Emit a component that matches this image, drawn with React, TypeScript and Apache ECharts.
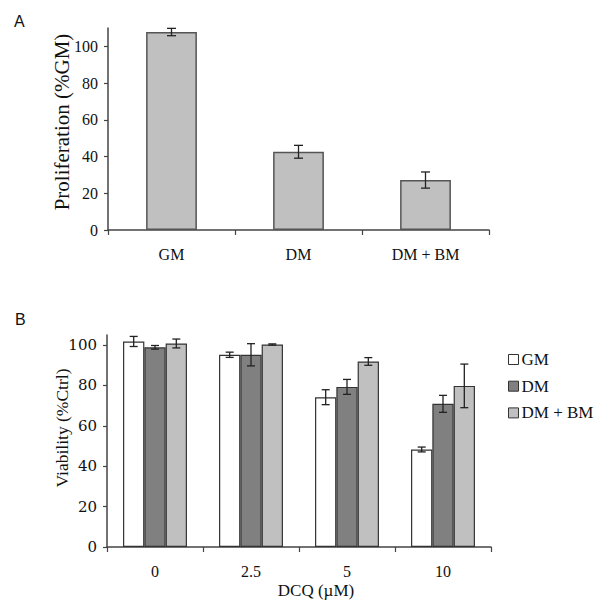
import React, { useEffect, useRef } from "react";
import * as echarts from "echarts";

const catsA = ["GM", "DM", "DM + BM"];
const valsA = [107.8, 42.6, 27.2];
const errA = [2.0, 3.5, 4.4];
const ticksA = [0, 20, 40, 60, 80, 100];

const catsB = ["0", "2.5", "5", "10"];
const seriesNamesB = ["GM", "DM", "DM + BM"];
const gmB = [101.8, 95.2, 74.2, 48.3];
const dmB = [98.9, 95.2, 79.3, 70.9];
const dmbmB = [100.8, 100.3, 91.9, 79.8];
const gmErrB = [2.5, 1.3, 3.7, 1.2];
const dmErrB = [0.9, 5.5, 3.7, 4.2];
const dmbmErrB = [2.2, 0.3, 1.9, 10.8];
const ticksB = [0, 20, 40, 60, 80, 100];

const SERIF = "'Liberation Serif', 'Times New Roman', serif";
const AXIS = "#444";

function errSeries(name: string, vals: number[], errs: number[], xi: number, offsetFrac: number, cap: number) {
  return {
    type: "custom",
    name,
    xAxisIndex: xi,
    yAxisIndex: xi,
    z: 10,
    silent: true,
    data: vals.map((v, i) => [i, v, errs[i]]),
    encode: { x: 0, y: 1 },
    renderItem: (params: any, api: any) => {
      const x = api.value(0);
      const y = api.value(1);
      const e = api.value(2);
      const band = api.size([1, 0])[0];
      const top = api.coord([x, y + e]);
      const bot = api.coord([x, y - e]);
      const cx = top[0] + offsetFrac * band;
      const st = { stroke: "#222", lineWidth: 1.3 };
      return {
        type: "group",
        children: [
          { type: "line", shape: { x1: cx, y1: top[1], x2: cx, y2: bot[1] }, style: st },
          { type: "line", shape: { x1: cx - cap, y1: top[1], x2: cx + cap, y2: top[1] }, style: st },
          { type: "line", shape: { x1: cx - cap, y1: bot[1], x2: cx + cap, y2: bot[1] }, style: st },
        ],
      };
    },
  };
}

export default function App() {
  const ref = useRef<HTMLDivElement>(null);
  useEffect(() => {
    if (!ref.current) return;
    const chart = echarts.init(ref.current, null, { renderer: "svg" });
    const bwB = 0.222;
    const barBorder = { borderColor: "#333", borderWidth: 1.2 };
    chart.setOption({
      animation: false,
      backgroundColor: "#fff",
      grid: [
        { left: 108, top: 28, width: 381, height: 202 },
        { left: 107, top: 335, width: 384, height: 212 },
      ],
      xAxis: [
        {
          type: "category",
          gridIndex: 0,
          data: catsA,
          axisLine: { lineStyle: { color: AXIS, width: 1.5 } },
          axisTick: { show: true, length: 5, lineStyle: { color: AXIS, width: 1.2 } },
          axisLabel: { color: "#111", fontFamily: SERIF, fontSize: 16, margin: 16 },
        },
        {
          type: "category",
          gridIndex: 1,
          data: catsB,
          axisLine: { lineStyle: { color: AXIS, width: 1.5 } },
          axisTick: { show: true, length: 5, lineStyle: { color: AXIS, width: 1.2 } },
          axisLabel: { color: "#111", fontFamily: SERIF, fontSize: 16, margin: 16 },
        },
      ],
      yAxis: [
        {
          type: "value",
          gridIndex: 0,
          min: 0,
          max: 110,
          interval: 20,
          splitLine: { show: false },
          axisLine: { show: true, lineStyle: { color: AXIS, width: 1.5 } },
          axisTick: { show: true, length: 4, customValues: ticksA, lineStyle: { color: AXIS, width: 1.2 } },
          axisLabel: { customValues: ticksA, color: "#111", fontFamily: SERIF, fontSize: 16, margin: 10 },
        },
        {
          type: "value",
          gridIndex: 1,
          min: 0,
          max: 105,
          interval: 20,
          splitLine: { show: false },
          axisLine: { show: true, lineStyle: { color: AXIS, width: 1.5 } },
          axisTick: { show: true, length: 4, customValues: ticksB, lineStyle: { color: AXIS, width: 1.2 } },
          axisLabel: { customValues: ticksB, color: "#111", fontFamily: "'DejaVu Serif', serif", fontSize: 15, margin: 10 },
        },
      ],
      legend: {
        data: seriesNamesB,
        orient: "vertical",
        left: 503,
        top: 346,
        itemWidth: 10,
        itemHeight: 10,
        itemGap: 9.7,
        icon: "rect",
        itemStyle: { borderColor: "#333", borderWidth: 1 },
        textStyle: { fontFamily: SERIF, fontSize: 17, color: "#111", lineHeight: 17, padding: [0, 0, 0, -2] },
      },
      series: [
        {
          type: "bar",
          name: "A",
          xAxisIndex: 0,
          yAxisIndex: 0,
          data: valsA,
          barWidth: "40%",
          itemStyle: { color: "#c0c0c0", borderColor: "#555", borderWidth: 1.5 },
        },
        errSeries("errA", valsA, errA, 0, 0, 4.5),
        {
          type: "bar",
          name: seriesNamesB[0],
          xAxisIndex: 1,
          yAxisIndex: 1,
          data: gmB,
          barWidth: bwB * 100 + "%",
          barGap: "0%",
          itemStyle: { color: "#ffffff", ...barBorder },
        },
        {
          type: "bar",
          name: seriesNamesB[1],
          xAxisIndex: 1,
          yAxisIndex: 1,
          data: dmB,
          barWidth: bwB * 100 + "%",
          barGap: "0%",
          itemStyle: { color: "#808080", ...barBorder },
        },
        {
          type: "bar",
          name: seriesNamesB[2],
          xAxisIndex: 1,
          yAxisIndex: 1,
          data: dmbmB,
          barWidth: bwB * 100 + "%",
          barGap: "0%",
          itemStyle: { color: "#c0c0c0", ...barBorder },
        },
        errSeries("errGM", gmB, gmErrB, 1, -bwB, 4),
        errSeries("errDM", dmB, dmErrB, 1, 0, 4),
        errSeries("errDMBM", dmbmB, dmbmErrB, 1, bwB, 4),
      ],
      graphic: [
        { type: "text", left: 14, top: 13, style: { text: "A", font: "16px 'Liberation Sans', Arial, sans-serif", fill: "#111" } },
        { type: "text", left: 15, top: 311, style: { text: "B", font: "16px 'Liberation Sans', Arial, sans-serif", fill: "#111" } },
        {
          type: "text",
          x: 62,
          y: 122,
          rotation: Math.PI / 2,
          style: { text: "Proliferation (%GM)", font: "21px " + SERIF, fill: "#111", align: "center", verticalAlign: "middle" },
        },
        {
          type: "text",
          x: 62,
          y: 428,
          rotation: Math.PI / 2,
          style: { text: "Viability (%Ctrl)", font: "17.5px " + SERIF, fill: "#111", align: "center", verticalAlign: "middle" },
        },
        {
          type: "text",
          x: 316,
          y: 590,
          style: { text: "DCQ (µM)", font: "17px " + SERIF, fill: "#111", align: "center", verticalAlign: "middle" },
        },
      ],
    });
    return () => chart.dispose();
  }, []);
  return <div ref={ref} style={{ position: "fixed", left: 0, top: 0, width: 600, height: 616 }} />;
}
